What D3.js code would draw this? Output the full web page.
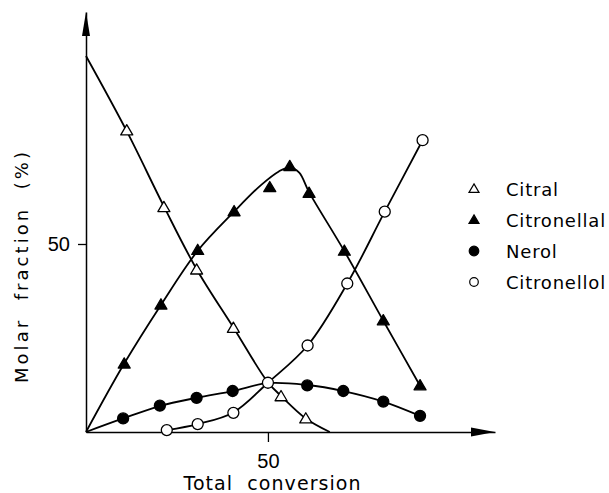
<!DOCTYPE html>
<html>
<head>
<meta charset="utf-8">
<script src="https://cdn.jsdelivr.net/npm/d3@7"></script>
<style>
  body { margin: 0; background: #fff; }
  svg { display: block; font-family: "DejaVu Sans", sans-serif; }
  .title { white-space: pre; }
</style>
</head>
<body>
<svg id="chart" width="609" height="493"></svg>
<script>
// measured points (x = total conversion %, y = molar fraction %)
const citralPts = [[11.2, 80.1], [21.4, 59.7], [30.4, 43.1], [40.5, 27.6], [53.6, 9.4], [60.4, 3.5]];
const citronellalPts = [[10.5, 18.1], [20.6, 33.8], [30.7, 48.3], [40.7, 58.6], [50.5, 65.0],
  [56.0, 70.6], [61.3, 63.5], [71.0, 48.1], [81.7, 29.6], [91.8, 12.3]];
const nerolPts = [[10.2, 3.6], [20.3, 7.0], [30.4, 9.1], [40.3, 10.9], [60.8, 12.4],
  [70.7, 10.9], [81.7, 8.1], [91.8, 4.3]];
const citronellolPts = [[22.2, 0.5], [30.7, 2.1], [40.5, 5.1], [50.0, 13.1], [60.9, 23.0],
  [71.8, 39.5], [82.1, 58.6], [92.5, 77.6]];

// hand-drawn fitted curves
const citralFit = [[0, 100], [11.2, 80], [21.4, 60], [30.4, 43.3], [40.5, 27.8], [50, 13.2],
  [53.6, 9.6], [60.4, 3.6], [67, 0]];
const citronellalFit = [[0, 0], [10.5, 18.2], [20.6, 33.8], [30.7, 48.2], [40.7, 58.6], [48, 65.6],
  [53, 69.3], [56, 70.4], [58.6, 69], [61.3, 63.8], [71, 48.1], [81.7, 29.6], [91.8, 12.3]];
const nerolFit = [[0, 0], [10.2, 3.6], [20.3, 6.9], [30.4, 9.1], [40.3, 10.9], [50, 13.0],
  [60.8, 12.5], [70.7, 10.9], [81.7, 8.1], [91.8, 4.3]];
const citronellolFit = [[22.2, 0.5], [30.7, 2.1], [40.5, 5.2], [50, 13.1], [60.9, 23.0],
  [71.8, 39.5], [82.1, 58.6], [92.5, 77.6]];

const xTicks = [50];
const yTicks = [50];
const legendNames = ['Citral', 'Citronellal', 'Nerol', 'Citronellol'];
const legendSymbols = ['openTri', 'fillTri', 'fillCircle', 'openCircle'];

const svg = d3.select('#chart');
const ox = 86, oy = 432;

const x = d3.scaleLinear()
  .domain([0, 112.4])
  .range([ox, 495]);
const y = d3.scaleLinear()
  .domain([0, 111.7])
  .range([oy, 12]);

// axes
svg.append('g')
    .attr('transform', `translate(0,${oy})`)
    .call(d3.axisBottom(x).tickValues(xTicks).tickSize(10).tickSizeOuter(0).tickPadding(12))
    .call(g => g.select('.domain').attr('stroke-width', 1.5))
    .call(g => g.selectAll('.tick line').attr('stroke-width', 1.3))
    .call(g => g.selectAll('text').attr('font-size', 20).attr('fill', '#000'));

svg.append('g')
    .attr('transform', `translate(${ox},0)`)
    .call(d3.axisLeft(y).tickValues(yTicks).tickSize(8).tickSizeOuter(0).tickPadding(8))
    .call(g => g.select('.domain').attr('stroke-width', 1.5))
    .call(g => g.selectAll('.tick line').attr('stroke-width', 1.3))
    .call(g => g.selectAll('text').attr('font-size', 20).attr('fill', '#000'));

// arrow heads
const xEnd = x.range()[1], yEnd = y.range()[1];
svg.append('path')
    .attr('d', `M${xEnd},${oy} L${xEnd - 24},${oy - 4.5} L${xEnd - 24},${oy + 4.5} Z`)
    .attr('fill', '#000');
svg.append('path')
    .attr('d', `M${ox},${yEnd} L${ox - 4},${yEnd + 24} L${ox + 4},${yEnd + 24} Z`)
    .attr('fill', '#000');

// axis titles
svg.append('text')
    .attr('class', 'title')
    .attr('x', 272)
    .attr('y', 490)
    .attr('text-anchor', 'middle')
    .attr('font-size', 19)
    .attr('textLength', 177)
    .attr('lengthAdjust', 'spacing')
    .text('Total  conversion');

svg.append('text')
    .attr('class', 'title')
    .attr('transform', 'translate(28,267.5) rotate(-90)')
    .attr('text-anchor', 'middle')
    .attr('font-size', 18)
    .attr('textLength', 231)
    .attr('lengthAdjust', 'spacing')
    .text('Molar  fraction  (%)');

// curves
const line = d3.line()
  .x(d => x(d[0]))
  .y(d => y(d[1]))
  .curve(d3.curveCatmullRom.alpha(0.5));

[citralFit, citronellalFit, nerolFit, citronellolFit].forEach(fit => {
  svg.append('path')
      .datum(fit)
      .attr('d', line)
      .attr('fill', 'none')
      .attr('stroke', '#000')
      .attr('stroke-width', 1.8);
});

// markers
function triPath(cx, cy, w) {
  const h = w * 0.85;
  return `M${cx},${cy - h * 0.6} L${cx + w / 2},${cy + h * 0.4} L${cx - w / 2},${cy + h * 0.4} Z`;
}

function drawMarkers(pts, kind, size) {
  const g = svg.append('g');
  if (kind === 'openTri' || kind === 'fillTri') {
    g.selectAll('path')
        .data(pts)
      .enter().append('path')
        .attr('d', d => triPath(x(d[0]), y(d[1]), size))
        .attr('fill', kind === 'openTri' ? '#fff' : '#000')
        .attr('stroke', '#000')
        .attr('stroke-width', 1.3)
        .attr('stroke-linejoin', 'round');
  } else {
    g.selectAll('circle')
        .data(pts)
      .enter().append('circle')
        .attr('cx', d => x(d[0]))
        .attr('cy', d => y(d[1]))
        .attr('r', size / 2)
        .attr('fill', kind === 'openCircle' ? '#fff' : '#000')
        .attr('stroke', '#000')
        .attr('stroke-width', 1.3);
  }
}

drawMarkers(nerolPts, 'fillCircle', 11);
drawMarkers(citronellolPts, 'openCircle', 11);
drawMarkers(citronellalPts, 'fillTri', 12);
drawMarkers(citralPts, 'openTri', 12);

// legend
const legend = svg.append('g');
legendNames.forEach((name, i) => {
  const cy = 189 + i * 31;
  const kind = legendSymbols[i];
  if (kind === 'openTri' || kind === 'fillTri') {
    legend.append('path')
        .attr('d', triPath(474, cy, 10))
        .attr('fill', kind === 'openTri' ? '#fff' : '#000')
        .attr('stroke', '#000')
        .attr('stroke-width', 1.2);
  } else {
    legend.append('circle')
        .attr('cx', 474)
        .attr('cy', cy)
        .attr('r', kind === 'openCircle' ? 4.3 : 4.8)
        .attr('fill', kind === 'openCircle' ? '#fff' : '#000')
        .attr('stroke', '#000')
        .attr('stroke-width', 1.2);
  }
  legend.append('text')
      .attr('x', 506)
      .attr('y', cy + 7)
      .attr('font-size', 18)
      .attr('letter-spacing', 0.8)
      .text(name);
});
</script>
</body>
</html>
